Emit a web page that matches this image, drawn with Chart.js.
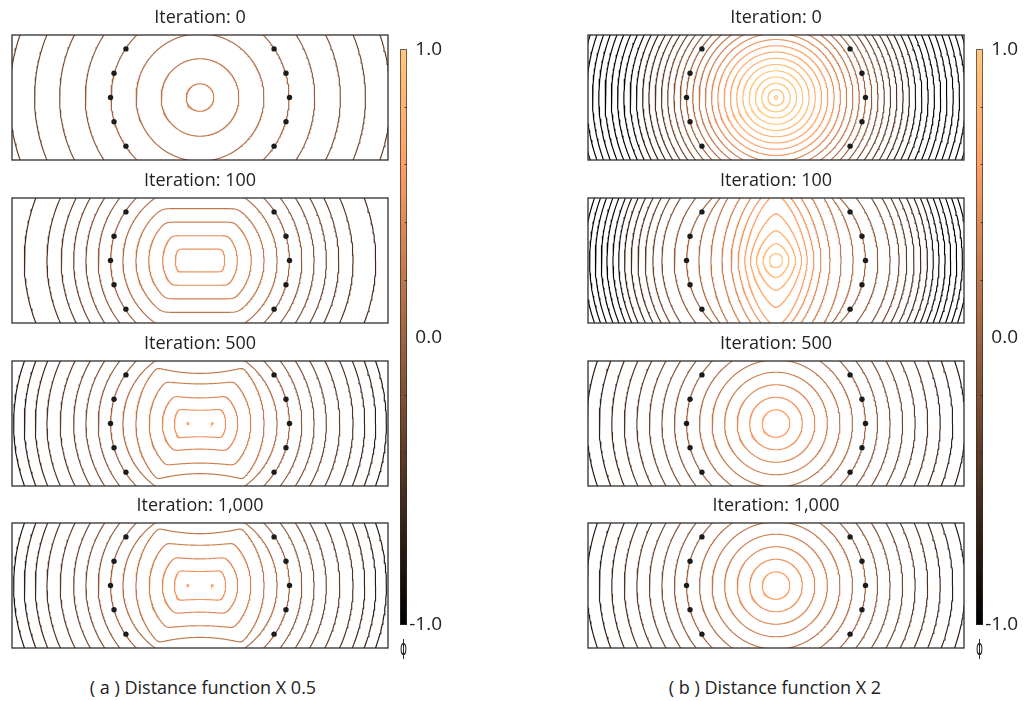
<!DOCTYPE html>
<html><head><meta charset="utf-8">
<script src="https://cdn.jsdelivr.net/npm/chart.js@4.4.1/dist/chart.umd.min.js"></script>
<style>
html,body{margin:0;padding:0;background:#fff;}
body{width:1026px;height:701px;position:relative;overflow:hidden;font-family:'Open Sans',sans-serif;}
canvas{position:absolute;}
.cap{position:absolute;width:400px;text-align:center;font-size:18px;line-height:24px;color:#222;font-family:'Open Sans',sans-serif;white-space:nowrap;}
</style></head><body>
<script>
// ---------------- data ----------------
const iterationLabels = ["Iteration: 0", "Iteration: 100", "Iteration: 500", "Iteration: 1,000"];
const captionA = "( a ) Distance function X 0.5";
const captionB = "( b ) Distance function X 2";
const colorbarTitle = "\u03d5";
const colorbarMin = -1, colorbarMax = 1;
const colorbarMinorTicks = [-0.8, -0.6, -0.4, -0.2, 0.2, 0.4, 0.6, 0.8];

// interface anchor points (domain x in [-1.5,1.5], y in [-0.5,0.5])
const anchorX = [-0.591, -0.686, -0.714, -0.686, -0.591, 0.591, 0.686, 0.714, 0.686, 0.591];
const anchorY = [0.389, 0.194, 0, -0.194, -0.389, 0.389, 0.194, 0, -0.194, -0.389];

// (a) distance function x0.5 : circular contours (phi level, radius)
const aIt0Levels = [0.3, 0.2, 0.1, 0.0, -0.1, -0.2, -0.3, -0.4];
const aIt0Radii  = [0.11, 0.31, 0.51, 0.71, 0.915, 1.12, 1.32, 1.52];

const aIt100Levels = [0.1, 0.0, -0.1, -0.2, -0.3, -0.4, -0.5, -0.6];
const aIt100Radii  = [0.615, 0.713, 0.812, 0.910, 1.008, 1.107, 1.221, 1.402];
// deformed contours: [phi, half-width, side half-height, side exponent, cap height, cap sag, x offset]
const aIt100Shapes = [
  [0.5, 0.197, 0.197, 2, 0.091, 0, 0],
  [0.4, 0.298, 0.298, 2, 0.198, 0, 0],
  [0.3, 0.409, 0.409, 2, 0.307, 0, 0],
  [0.2, 0.511, 0.511, 2, 0.415, 0, 0]
];

const aIt500Levels = [0.1, 0.0, -0.1, -0.2, -0.3, -0.4, -0.5, -0.6, -0.7, -0.8];
const aIt500Radii  = [0.615, 0.713, 0.812, 0.910, 1.008, 1.115, 1.221, 1.314, 1.402, 1.487];
const aIt500Shapes = [
  [0.6, 0.008, 0.008, 2, null, 0, -0.097],
  [0.6, 0.008, 0.008, 2, null, 0, 0.097],
  [0.5, 0.205, 0.205, 2, 0.106, 0.0145, 0],
  [0.4, 0.301, 0.301, 2, 0.205, 0.03, 0],
  [0.3, 0.405, 0.45, 2, 0.317, 0.04, 0],
  [0.2, 0.511, 0.6, 2, 0.401, 0.1, 0]
];

const aIt1000Levels = [0.1, 0.0, -0.1, -0.2, -0.3, -0.4, -0.5, -0.6, -0.7, -0.8];
const aIt1000Radii  = [0.615, 0.713, 0.812, 0.910, 1.008, 1.115, 1.221, 1.314, 1.402, 1.487];
const aIt1000Shapes = [
  [0.6, 0.008, 0.008, 2, null, 0, -0.097],
  [0.6, 0.008, 0.008, 2, null, 0, 0.097],
  [0.5, 0.205, 0.205, 2, 0.112, 0.012, 0],
  [0.4, 0.301, 0.301, 2, 0.213, 0.028, 0],
  [0.3, 0.405, 0.45, 2, 0.322, 0.04, 0],
  [0.2, 0.511, 0.6, 2, 0.415, 0.1, 0]
];

// (b) distance function x2
const bIt0Levels = [1.4,1.3,1.2,1.1,1.0,0.9,0.8,0.7,0.6,0.5,0.4,0.3,0.2,0.1,0.0,-0.1,-0.2,-0.3,-0.4,-0.5,-0.6,-0.7,-0.8,-0.9,-1.0,-1.1,-1.2,-1.3,-1.4,-1.5,-1.6,-1.7];
const bIt0Radii  = [0.014,0.064,0.114,0.164,0.214,0.264,0.314,0.364,0.414,0.464,0.514,0.564,0.614,0.664,0.714,0.764,0.814,0.864,0.914,0.964,1.014,1.064,1.114,1.164,1.214,1.264,1.314,1.364,1.414,1.464,1.514,1.564];

const bIt100Levels = [0.0,-0.1,-0.2,-0.3,-0.4,-0.5,-0.6,-0.7,-0.8,-0.9,-1.0,-1.1,-1.2,-1.3,-1.4];
const bIt100Radii  = [0.713,0.812,0.910,0.982,1.043,1.101,1.155,1.208,1.255,1.301,1.349,1.394,1.442,1.487,1.532];
const bIt100Shapes = [
  [1.0, 0.052, 0.056, 2, null, 0, 0],
  [0.9, 0.104, 0.136, 1.6, null, 0, 0],
  [0.8, 0.157, 0.239, 1.5, null, 0, 0],
  [0.7, 0.205, 0.375, 1.45, null, 0, 0],
  [0.6, 0.250, 0.529, 1.5, null, 0, 0],
  [0.5, 0.303, 0.586, 1.6, null, 0, 0],
  [0.4, 0.359, 0.654, 1.7, null, 0, 0],
  [0.3, 0.431, 0.718, 1.8, null, 0, 0],
  [0.2, 0.519, 0.770, 1.9, null, 0, 0],
  [0.1, 0.615, 0.726, 2, null, 0, 0]
];

const bIt500Levels = [0.6,0.5,0.4,0.3,0.2,0.1,0.0,-0.1,-0.2,-0.3,-0.4,-0.5,-0.6,-0.7,-0.8];
const bIt500Radii  = [0.11,0.21,0.31,0.41,0.51,0.61,0.713,0.81,0.91,1.01,1.11,1.21,1.31,1.41,1.51];
const bIt1000Levels = [0.6,0.5,0.4,0.3,0.2,0.1,0.0,-0.1,-0.2,-0.3,-0.4,-0.5,-0.6,-0.7,-0.8];
const bIt1000Radii  = [0.11,0.21,0.31,0.41,0.51,0.61,0.713,0.81,0.91,1.01,1.11,1.21,1.31,1.41,1.51];

// ---------------- layout ----------------
const FONT = "'Open Sans', sans-serif";
const TEXT = '#222';
const panelLefts = [12, 588];
const panelTops = [35, 198, 361, 523];
const PW = 376, PH = 125, TH = 30;

const panels = [
  [0, 0, aIt0Levels, aIt0Radii, []],
  [0, 1, aIt100Levels, aIt100Radii, aIt100Shapes],
  [0, 2, aIt500Levels, aIt500Radii, aIt500Shapes],
  [0, 3, aIt1000Levels, aIt1000Radii, aIt1000Shapes],
  [1, 0, bIt0Levels, bIt0Radii, []],
  [1, 1, bIt100Levels, bIt100Radii, bIt100Shapes],
  [1, 2, bIt500Levels, bIt500Radii, []],
  [1, 3, bIt1000Levels, bIt1000Radii, []]
];

function copperT(t) {
  t = Math.max(0, Math.min(1, t));
  return [Math.min(1, 1.25 * t) * 255, 0.7812 * t * 255, 0.4975 * t * 255];
}
function copper(level) {
  const c = copperT((level - colorbarMin) / (colorbarMax - colorbarMin));
  return 'rgb(' + Math.round(c[0]) + ',' + Math.round(c[1]) + ',' + Math.round(c[2]) + ')';
}
function smin(u, v, k) {
  const m = Math.min(u, v);
  return m - k * Math.log(1 + Math.exp(-Math.abs(u - v) / k));
}
function contourPoints(cx, a, b, p, cap, sag) {
  const pts = [];
  const N = 180, e = 2 / p;
  for (let i = 0; i <= 2 * N; i++) {
    const t = Math.PI * i / N;
    const c = Math.cos(t), s = Math.sin(t);
    const x = a * Math.sign(c) * Math.pow(Math.abs(c), e);
    let y = b * Math.pow(Math.abs(s), e);
    if (cap !== null) y = smin(y, cap + sag * (x / a) * (x / a), 0.012);
    pts.push({ x: cx + x, y: (i <= N) ? y : -y });
  }
  return pts;
}
function lineDs(level, pts) {
  return { data: pts, showLine: true, pointRadius: 0, pointHoverRadius: 0, borderColor: copper(level),
           borderWidth: 1.15, fill: false, tension: 0, clip: 0 };
}

const framePlugin = {
  id: 'frame',
  afterDatasetsDraw(chart) {
    const { ctx, chartArea: a } = chart;
    ctx.save();
    ctx.strokeStyle = '#2e2e2e';
    ctx.lineWidth = 1.3;
    ctx.strokeRect(a.left, a.top, a.right - a.left, a.bottom - a.top);
    ctx.restore();
  }
};

function makeCanvas(left, top, w, h) {
  const c = document.createElement('canvas');
  c.width = w; c.height = h;
  c.style.left = left + 'px'; c.style.top = top + 'px';
  c.style.width = w + 'px'; c.style.height = h + 'px';
  document.body.appendChild(c);
  return c;
}

panels.forEach(([col, row, levels, radii, shapes]) => {
  const canvas = makeCanvas(panelLefts[col] - 1, panelTops[row] - TH, PW + 2, TH + PH + 2);
  const datasets = [{
    data: anchorX.map((x, i) => ({ x: x, y: anchorY[i] })),
    showLine: false, pointRadius: 2.7, pointHoverRadius: 2.7,
    pointBackgroundColor: '#1c1c1c', pointBorderWidth: 0, clip: 0
  }];
  levels.forEach((lv, i) => datasets.push(lineDs(lv, contourPoints(0, radii[i], radii[i], 2, null, 0))));
  shapes.forEach(s => datasets.push(lineDs(s[0], contourPoints(s[6], s[1], s[2], s[3], s[4], s[5]))));
  new Chart(canvas, {
    type: 'scatter',
    data: { datasets },
    options: {
      responsive: false, animation: false, events: [], devicePixelRatio: 1,
      layout: { padding: { left: 1, right: 1, top: 0, bottom: 2 }, autoPadding: false },
      scales: {
        x: { type: 'linear', min: -1.5, max: 1.5, display: false },
        y: { type: 'linear', min: -0.5, max: 0.5, display: false }
      },
      plugins: {
        legend: { display: false }, tooltip: { enabled: false },
        title: { display: true, text: iterationLabels[row], fullSize: false, color: TEXT,
                 font: { family: FONT, size: 18, weight: 'normal', lineHeight: 1.2 },
                 padding: { top: 2.2, bottom: 6.2 } }
      }
    },
    plugins: [framePlugin]
  });
});

// ---------------- colorbars ----------------
const minorTickPlugin = {
  id: 'minorTicks',
  afterDatasetsDraw(chart) {
    const { ctx, chartArea: a } = chart;
    const y = chart.scales.y;
    ctx.save();
    ctx.strokeStyle = 'rgba(40,40,40,0.8)';
    ctx.lineWidth = 1;
    colorbarMinorTicks.forEach(v => {
      const py = Math.round(y.getPixelForValue(v)) + 0.5;
      ctx.beginPath(); ctx.moveTo(a.right - 2.5, py); ctx.lineTo(a.right, py); ctx.stroke();
    });
    ctx.restore();
  }
};
function makeColorbar(left) {
  const canvas = makeCanvas(left, 30, 46, 640);
  new Chart(canvas, {
    type: 'bar',
    data: { labels: [''], datasets: [{
      data: [[colorbarMin, colorbarMax]],
      backgroundColor: (ctx) => {
        const ca = ctx.chart.chartArea;
        if (!ca) return '#999';
        const g = ctx.chart.ctx.createLinearGradient(0, ca.bottom, 0, ca.top);
        [0, 0.2, 0.4, 0.6, 0.8, 1].forEach(t => {
          const c = copperT(t);
          g.addColorStop(t, 'rgb(' + Math.round(c[0]) + ',' + Math.round(c[1]) + ',' + Math.round(c[2]) + ')');
        });
        return g;
      },
      borderColor: '#2b2b2b', borderWidth: 1, borderSkipped: false,
      barPercentage: 1, categoryPercentage: 1
    }] },
    options: {
      responsive: false, animation: false, events: [], devicePixelRatio: 1,
      layout: { padding: { left: 4, top: 19.3, right: 0, bottom: 0 } },
      scales: {
        x: { display: false },
        y: { position: 'right', min: colorbarMin, max: colorbarMax,
             grid: { display: false, drawTicks: false }, border: { display: false },
             ticks: { stepSize: 1, padding: 2, crossAlign: 'far', color: TEXT,
                      font: { family: FONT, size: 19 }, callback: v => Number(v).toFixed(1) },
             afterFit(scale) { scale.width = 35; } }
      },
      plugins: {
        legend: { display: false }, tooltip: { enabled: false },
        title: { display: true, text: colorbarTitle, position: 'bottom', fullSize: false, color: TEXT,
                 font: { family: "'DejaVu Sans', sans-serif", size: 22, weight: 'normal', lineHeight: 1.2 },
                 padding: { top: 10.8, bottom: 7.8 } }
      }
    },
    plugins: [minorTickPlugin]
  });
}
makeColorbar(396);
makeColorbar(972);

// ---------------- captions ----------------
[[captionA, 203], [captionB, 775]].forEach(([txt, cx]) => {
  const d = document.createElement('div');
  d.className = 'cap';
  d.textContent = txt;
  d.style.left = (cx - 200) + 'px';
  d.style.top = '675px';
  document.body.appendChild(d);
});
</script>
</body></html>
